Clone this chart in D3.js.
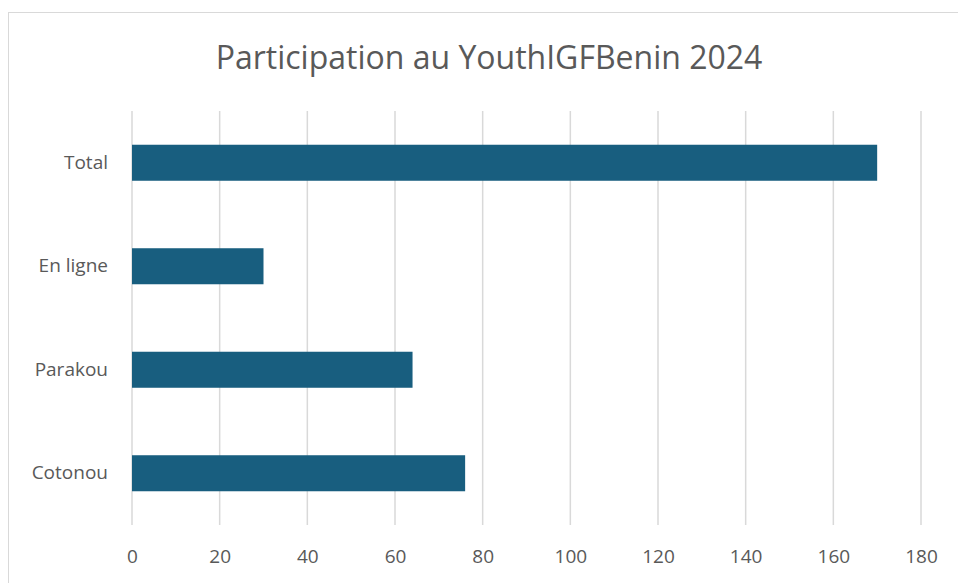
<!DOCTYPE html>
<html>
<head>
<meta charset="utf-8">
<script src="https://cdn.jsdelivr.net/npm/d3@7"></script>
<style>
  body { margin: 0; background: #fff; }
  text { font-family: 'Open Sans', sans-serif; fill: #595959; }
</style>
</head>
<body>
<div id="chart-area"></div>
<script>
// chart data
const categories = ['Total', 'En ligne', 'Parakou', 'Cotonou'];
const values = [170, 30, 64, 76];
const xTicks = [0, 20, 40, 60, 80, 100, 120, 140, 160, 180];
const title = 'Participation au YouthIGFBenin 2024';

const W = 958;
const H = 583;
const margin = { left: 132, right: 37, top: 111, bottom: 58 };
const width = W - margin.left - margin.right;
const height = H - margin.top - margin.bottom;

const svg = d3
  .select('#chart-area')
  .append('svg')
  .attr('width', W)
  .attr('height', H);

// outer chart border
svg
  .append('rect')
  .attr('x', 8.5)
  .attr('y', 12.5)
  .attr('width', W)
  .attr('height', H)
  .attr('fill', 'none')
  .attr('stroke', '#d9d9d9')
  .attr('stroke-width', 1);

svg
  .append('text')
  .attr('x', 489)
  .attr('y', 69)
  .attr('text-anchor', 'middle')
  .attr('font-size', '32px')
  .text(title);

const g = svg
  .append('g')
  .attr('transform', `translate(${margin.left}, ${margin.top})`);

const x = d3.scaleLinear().domain([0, 180]).range([0, width]);
const y = d3
  .scaleBand()
  .domain(categories)
  .range([0, height])
  .paddingInner(0.652)
  .paddingOuter(0.326);

// vertical gridlines
g.append('g')
  .selectAll('line')
  .data(xTicks)
  .enter()
  .append('line')
  .attr('x1', (d) => x(d))
  .attr('x2', (d) => x(d))
  .attr('y1', 0)
  .attr('y2', height)
  .attr('stroke', '#d9d9d9')
  .attr('stroke-width', 1.5);

// bars
g.selectAll('.bar')
  .data(categories)
  .enter()
  .append('rect')
  .attr('class', 'bar')
  .attr('x', x(0))
  .attr('y', (d) => y(d))
  .attr('width', (d, i) => x(values[i]) - x(0))
  .attr('height', y.bandwidth())
  .attr('fill', '#185e7f');

// x axis labels
const xAxis = g
  .append('g')
  .attr('transform', `translate(0, ${height})`)
  .call(d3.axisBottom(x).tickValues(xTicks).tickSize(0).tickPadding(25));
xAxis.select('.domain').remove();
xAxis.selectAll('text').attr('font-size', '19px').attr('fill', '#595959');

// category labels
const yAxis = g
  .append('g')
  .call(d3.axisLeft(y).tickSize(0).tickPadding(24));
yAxis.select('.domain').remove();
yAxis.selectAll('text').attr('font-size', '19px').attr('fill', '#595959');
</script>
</body>
</html>
